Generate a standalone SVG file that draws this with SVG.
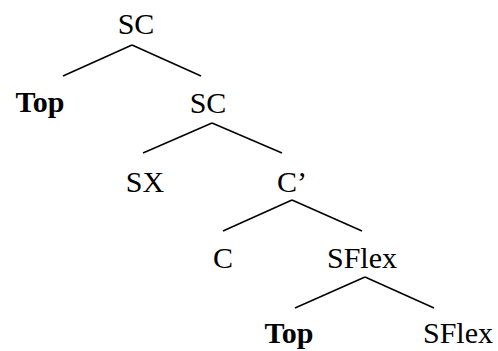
<svg xmlns="http://www.w3.org/2000/svg" width="498" height="351" viewBox="0 0 498 351">
<style>
text{font-family:"Liberation Serif","Times New Roman",serif;font-size:30px;fill:#000;text-anchor:middle}
.b{font-weight:bold}
line{stroke:#000;stroke-width:1.5}
</style>
<rect width="498" height="351" fill="#fff"/>
<g id="connectors">
<line x1="132" y1="45" x2="63" y2="76"/>
<line x1="132" y1="45" x2="201" y2="76"/>
<line x1="212" y1="123" x2="143" y2="153"/>
<line x1="212" y1="123" x2="282" y2="153"/>
<line x1="292" y1="200" x2="223" y2="231"/>
<line x1="292" y1="200" x2="362" y2="231"/>
<line x1="365" y1="277" x2="295" y2="308"/>
<line x1="365" y1="277" x2="434" y2="308"/>
</g>
<g id="n1"><text x="136" y="34">SC</text></g>
<g id="n2"><text class="b" x="40" y="112">Top</text></g>
<g id="n3"><text x="208" y="113">SC</text></g>
<g id="n4"><text x="145" y="192">SX</text></g>
<g id="n5"><text x="292" y="192">C’</text></g>
<g id="n6"><text x="223" y="268">C</text></g>
<g id="n7"><text x="362" y="268">SFlex</text></g>
<g id="n8"><text class="b" x="289" y="343">Top</text></g>
<g id="n9"><text x="458" y="343">SFlex</text></g>
</svg>
